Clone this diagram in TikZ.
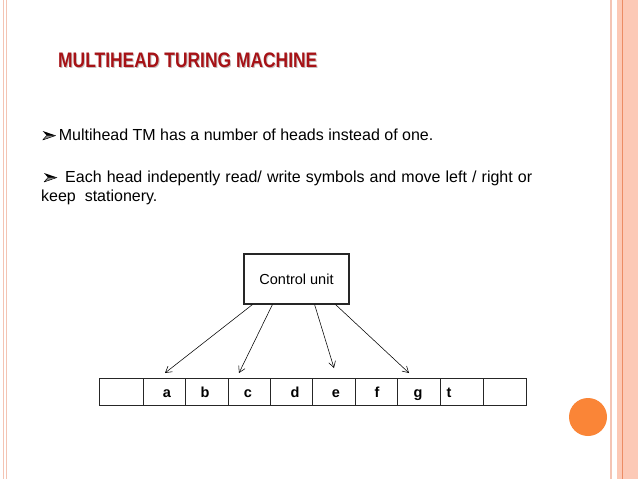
\documentclass[tikz,border=0pt]{standalone}
\usepackage{fontspec}
\setmainfont{Liberation Sans}
\usetikzlibrary{arrows.meta}
\definecolor{titlered}{RGB}{166,18,22}
\definecolor{shadowgray}{RGB}{200,190,190}
\definecolor{borderpink}{RGB}{244,196,180}
\definecolor{bandpink}{RGB}{252,201,182}
\definecolor{bandline}{RGB}{236,140,100}
\definecolor{dotorange}{RGB}{250,133,55}
\tikzset{
  bodytext/.style={anchor=base west,inner sep=0pt,font=\fontsize{16}{19}\selectfont},
  cell/.style={draw=black!85,line width=0.7pt,minimum height=27pt,inner sep=0pt,anchor=west},
  sym/.style={anchor=base,inner sep=0pt,font=\fontsize{14.5}{16}\selectfont\bfseries},
  head/.style={line width=0.55pt,-{Straight Barb[length=6pt,width=7pt]}},
  pics/bulletmark/.style={code={
    \fill[black] (0,0) -- (13,4.5) -- (4,4.5) -- cycle;
    \filldraw[fill=black!45,draw=black,line width=0.5pt,line join=round] (4,4.5) -- (13,4.5) -- (0,9) -- cycle;
  }},
}
\begin{document}
\begin{tikzpicture}[x=1pt,y=-1pt]
\useasboundingbox (0,0) rectangle (638,479);
\fill[white] (0,0) rectangle (638,479);
% borders
\draw[borderpink,line width=0.9pt] (3.5,0) -- (3.5,479);
\draw[borderpink,line width=0.9pt] (6.5,0) -- (6.5,479);
\draw[borderpink,line width=1.4pt] (611,0) -- (611,479);
\fill[bandpink] (617,0) rectangle (638,479);
\draw[bandline,line width=0.9pt] (622.5,0) -- (622.5,479);
% title
\node[anchor=base west,inner sep=0pt,text=shadowgray] at (59,68) {\scalebox{0.83}[1]{\fontsize{21}{25}\selectfont\bfseries MULTIHEAD TURING MACHINE}};
\node (title) [anchor=base west,inner sep=0pt,text=titlered] at (58,67) {\scalebox{0.83}[1]{\fontsize{21}{25}\selectfont\bfseries MULTIHEAD TURING MACHINE}};
% bullets
\pic at (42.7,131) {bulletmark};
\pic at (44,173) {bulletmark};
\node (b1) [bodytext] at (58.7,140) {Multihead TM has a number of heads instead of one.};
\node (b2) [bodytext] at (65,182) {\makebox[467pt][s]{Each head indepently read/ write symbols and move left / right or}};
\node (b3) [bodytext] at (41,201) {keep\ \ stationery.};
% control unit
\node (cu) [draw=black!85,line width=1.2pt,minimum width=105pt,minimum height=50pt,inner sep=0pt,font=\fontsize{14.5}{17}\selectfont] at (296.5,279) {Control unit};
% tape
\node (t0) [cell,minimum width=44pt] at (99,391.5) {};
\node (t1) [cell,minimum width=42pt] at (143,391.5) {};
\node (t2) [cell,minimum width=43pt] at (185,391.5) {};
\node (t3) [cell,minimum width=42pt] at (228,391.5) {};
\node (t4) [cell,minimum width=42pt] at (270,391.5) {};
\node (t5) [cell,minimum width=43pt] at (312,391.5) {};
\node (t6) [cell,minimum width=42pt] at (355,391.5) {};
\node (t7) [cell,minimum width=43pt] at (397,391.5) {};
\node (t8) [cell,minimum width=43pt] at (440,391.5) {};
\node (t9) [cell,minimum width=43pt] at (483,391.5) {};
\node (sa) [sym] at (167,397) {a};
\node (sb) [sym] at (205,397) {b};
\node (sc) [sym] at (248,397) {c};
\node (sd) [sym] at (295,397) {d};
\node (se) [sym] at (336,397) {e};
\node (sf) [sym] at (377,397) {f};
\node (sg) [sym] at (418,397) {g};
\node (st) [sym] at (449,397) {t};
% heads
\coordinate (h1) at (165,373);
\coordinate (h2) at (239,373);
\coordinate (h3) at (334,368);
\coordinate (h4) at (409,373);
\draw[head] ([xshift=9pt]cu.south west) -- (h1);
\draw[head] ([xshift=29pt]cu.south west) -- (h2);
\draw[head] ([xshift=-35pt]cu.south east) -- (h3);
\draw[head] ([xshift=-14pt]cu.south east) -- (h4);
% dot
\node (dot) [circle,fill=dotorange,minimum size=38pt,inner sep=0pt] at (588,417) {};
\end{tikzpicture}
\end{document}
